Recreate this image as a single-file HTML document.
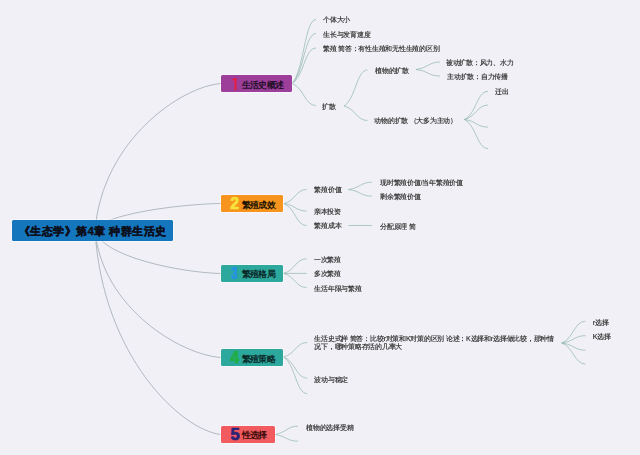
<!DOCTYPE html>
<html><head><meta charset="utf-8">
<style>
html,body{margin:0;padding:0;}
body{width:640px;height:455px;overflow:hidden;background:#f2f0f7;position:relative;font-family:"Liberation Sans",sans-serif;}
svg{position:absolute;left:0;top:0;}
.t{position:absolute;white-space:nowrap;letter-spacing:-0.25px;font-weight:bold;filter:blur(0.2px);font-size:6.6px;line-height:6.6px;color:#444444;}
.n{position:absolute;border-radius:1.5px;}
.d{position:absolute;font-weight:bold;font-size:13px;line-height:13px;}
.l{position:absolute;white-space:nowrap;font-size:9.2px;line-height:9px;letter-spacing:-0.8px;font-weight:bold;}
.rt{position:absolute;white-space:nowrap;font-size:11.4px;line-height:12px;letter-spacing:0.5px;font-weight:bold;color:#0c0f1c;-webkit-text-stroke:0.35px #0c0f1c;}
</style></head><body>
<svg width="640" height="455" viewBox="0 0 640 455"><g fill="none" stroke="#8db6ae" stroke-width="0.7">
<path d="M95.0 230.5C102.6 139.4 181.9 86.4 221.0 83.5" stroke="#94a2a8"/>
<path d="M95.0 230.5C102.6 213.8 181.9 204.0 221.0 203.5" stroke="#94a2a8"/>
<path d="M95.0 230.5C102.6 257.2 181.9 272.6 221.0 273.5" stroke="#94a2a8"/>
<path d="M95.0 230.5C102.6 309.2 181.9 355.0 221.0 357.5" stroke="#94a2a8"/>
<path d="M95.0 230.5C102.6 357.0 181.9 430.4 221.0 434.5" stroke="#94a2a8"/>
<path d="M292.0 83.5C304.0 70.7 304.7 19.5 316.0 19.5"/>
<path d="M292.0 83.5C304.0 73.5 304.7 33.5 316.0 33.5"/>
<path d="M292.0 83.5C304.0 76.4 304.7 48.0 316.0 48.0"/>
<path d="M292.0 83.5C304.0 87.9 304.7 105.5 316.0 105.5"/>
<path d="M344.0 106.0C355.8 98.8 356.5 70.0 367.5 70.0"/>
<path d="M344.0 106.0C355.8 108.9 356.5 120.5 367.5 120.5"/>
<path d="M416.0 69.5C428.0 68.0 428.7 62.0 440.0 62.0"/>
<path d="M416.0 69.5C428.0 70.8 428.7 76.0 440.0 76.0"/>
<path d="M464.4 119.5C476.2 113.9 476.9 91.4 488.0 91.4"/>
<path d="M464.4 119.5C476.2 116.6 476.9 105.1 488.0 105.1"/>
<path d="M464.4 119.5C476.2 121.0 476.9 127.1 488.0 127.1"/>
<path d="M464.4 119.5C476.2 125.3 476.9 148.5 488.0 148.5"/>
<path d="M284.0 203.6C295.3 200.8 296.0 189.5 306.6 189.5"/>
<path d="M284.0 203.6C295.3 205.1 296.0 211.0 306.6 211.0"/>
<path d="M284.0 203.6C295.3 208.0 296.0 225.5 306.6 225.5"/>
<path d="M348.4 189.5C360.2 188.0 360.9 182.2 372.0 182.2"/>
<path d="M348.4 189.5C360.2 190.8 360.9 196.2 372.0 196.2"/>
<path d="M348.4 225.5L372 225.5"/>
<path d="M283.5 273.4C295.1 270.5 295.7 258.8 306.6 258.8"/>
<path d="M283.5 273.4C295.1 273.4 295.7 273.4 306.6 273.4"/>
<path d="M283.5 273.4C295.1 276.2 295.7 287.5 306.6 287.5"/>
<path d="M283.5 357.0C295.4 354.1 296.1 342.5 307.2 342.5"/>
<path d="M283.5 357.0C295.4 361.2 296.1 378.2 307.2 378.2"/>
<path d="M283.5 357.0C295.4 364.3 296.1 393.6 307.2 393.6"/>
<path d="M561.7 343.0C573.6 338.6 574.3 321.2 585.5 321.2"/>
<path d="M561.7 343.0C573.6 341.5 574.3 335.7 585.5 335.7"/>
<path d="M561.7 343.0C573.6 344.4 574.3 350.2 585.5 350.2"/>
<path d="M561.7 343.0C573.6 347.2 574.3 364.0 585.5 364.0"/>
<path d="M274.5 434.5C286.2 432.9 287.0 426.2 298.0 426.2"/>
<path d="M274.5 434.5C286.2 435.9 287.0 441.2 298.0 441.2"/>
</g></svg>
<div class="n" style="left:12px;top:220px;width:161px;height:21px;background:#1476bd;box-shadow:0 0 0 0.8px rgba(255,255,255,0.55)"></div>
<div class="rt" id="rt" style="left:18.5px;top:225px">《生态学》第4章 种群生活史</div>
<div class="n" style="left:221px;top:75px;width:71px;height:17.3px;background:#9d3e9b;box-shadow:0 0 0 0.8px rgba(255,255,255,0.55)"></div>
<div class="l" id="l1" style="left:242px;top:80.7px;color:#24102a">生活史概述</div>
<div class="n" style="left:221px;top:195px;width:62px;height:17.2px;background:#f7941d;box-shadow:0 0 0 0.8px rgba(255,255,255,0.55)"></div>
<div class="l" id="l2" style="left:242px;top:200.6px;color:#1e1400">繁殖成效</div>
<div class="n" style="left:221px;top:265px;width:62px;height:16.8px;background:#2da89c;box-shadow:0 0 0 0.8px rgba(255,255,255,0.55)"></div>
<div class="l" id="l3" style="left:242px;top:270.4px;color:#0a2a2a">繁殖格局</div>
<div class="n" style="left:221px;top:349px;width:62px;height:17.0px;background:#2da89c;box-shadow:0 0 0 0.8px rgba(255,255,255,0.55)"></div>
<div class="l" id="l4" style="left:242px;top:354.5px;color:#0a2a2a">繁殖策略</div>
<div class="n" style="left:221px;top:426px;width:54px;height:16.7px;background:#f15b5f;box-shadow:0 0 0 0.8px rgba(255,255,255,0.55)"></div>
<div class="l" id="l5" style="left:242px;top:431.4px;color:#3a0a0a">性选择</div>
<svg width="640" height="455" viewBox="0 0 640 455" style="font-family:'Liberation Sans',sans-serif;font-weight:bold">
<path id="d1" fill="#e31e48" d="M232 79.6L234.4 78L236.6 78L236.6 89.7L235.6 90.7L234.4 89.7L234.4 80.4L232.6 80.8Z"/>
<text id="d2" x="230.3" y="209.4" font-size="15.69" fill="#f6e33c" stroke="#f6e33c" stroke-width="0.7">2</text>
<text id="d3" transform="translate(231.3 278.9) scale(0.72 1)" x="0" y="0" font-size="15.83" fill="#2191e6" stroke="#2191e6" stroke-width="0.6">3</text>
<text id="d4" x="230.5" y="362.9" font-size="15.83" fill="#1fae45" stroke="#1fae45" stroke-width="0.7">4</text>
<text id="d5" x="230.5" y="439.7" font-size="16.56" fill="#2a2378" stroke="#2a2378" stroke-width="0.7">5</text>
</svg>
<div class="t" id="t0" style="left:323.00px;top:17.30px;font-size:6.6px;line-height:6.6px;">个体大小</div>
<div class="t" id="t1" style="left:323.00px;top:31.88px;font-size:6.6px;line-height:6.6px;">生长与发育速度</div>
<div class="t" id="t2" style="left:323.00px;top:45.63px;font-size:6.6px;line-height:6.6px;">繁殖 简答：有性生殖和无性生殖的区别</div>
<div class="t" id="t3" style="left:322.00px;top:103.55px;font-size:6.6px;line-height:6.6px;">扩散</div>
<div class="t" id="t4" style="left:375.00px;top:67.92px;font-size:6.6px;line-height:6.6px;">植物的扩散</div>
<div class="t" id="t5" style="left:374.40px;top:117.92px;font-size:6.6px;line-height:6.6px;">动物的扩散 （大多为主动）</div>
<div class="t" id="t6" style="left:445.75px;top:60.43px;font-size:6.6px;line-height:6.6px;">被动扩散：风力、水力</div>
<div class="t" id="t7" style="left:447.00px;top:74.17px;font-size:6.6px;line-height:6.6px;">主动扩散：自力传播</div>
<div class="t" id="t8" style="left:495.00px;top:89.20px;font-size:6.6px;line-height:6.6px;">迁出</div>
<div class="t" id="t9" style="left:314.40px;top:187.45px;font-size:6.6px;line-height:6.6px;">繁殖价值</div>
<div class="t" id="t10" style="left:313.90px;top:209.10px;font-size:6.6px;line-height:6.6px;">亲本投资</div>
<div class="t" id="t11" style="left:314.40px;top:222.95px;font-size:6.6px;line-height:6.6px;">繁殖成本</div>
<div class="t" id="t12" style="left:380.20px;top:180.45px;font-size:6.6px;line-height:6.6px;">现时繁殖价值/当年繁殖价值</div>
<div class="t" id="t13" style="left:380.20px;top:194.00px;font-size:6.6px;line-height:6.6px;">剩余繁殖价值</div>
<div class="t" id="t14" style="left:380.20px;top:223.65px;font-size:6.6px;line-height:6.6px;">分配原理 简</div>
<div class="t" id="t15" style="left:313.90px;top:257.40px;font-size:6.6px;line-height:6.6px;">一次繁殖</div>
<div class="t" id="t16" style="left:313.90px;top:271.20px;font-size:6.6px;line-height:6.6px;">多次繁殖</div>
<div class="t" id="t17" style="left:314.40px;top:285.50px;font-size:6.6px;line-height:6.6px;">生活年限与繁殖</div>
<div class="t" id="t18" style="left:314.30px;top:336.35px;font-size:6.6px;line-height:6.6px;">生活史式样 简答：比较r对策和K对策的区别 论述：K选择和r选择做比较，那种情</div>
<div class="t" id="t19" style="left:314.30px;top:344.05px;font-size:6.6px;line-height:6.6px;">况下，哪种策略存活的几率大</div>
<div class="t" id="t20" style="left:314.30px;top:376.55px;font-size:6.6px;line-height:6.6px;">波动与稳定</div>
<div class="t" id="t21" style="left:592.70px;top:319.80px;font-size:6.6px;line-height:6.6px;">r选择</div>
<div class="t" id="t22" style="left:592.70px;top:333.85px;font-size:6.6px;line-height:6.6px;">K选择</div>
<div class="t" id="t23" style="left:306.00px;top:424.95px;font-size:6.6px;line-height:6.6px;">植物的选择受精</div>
</body></html>
